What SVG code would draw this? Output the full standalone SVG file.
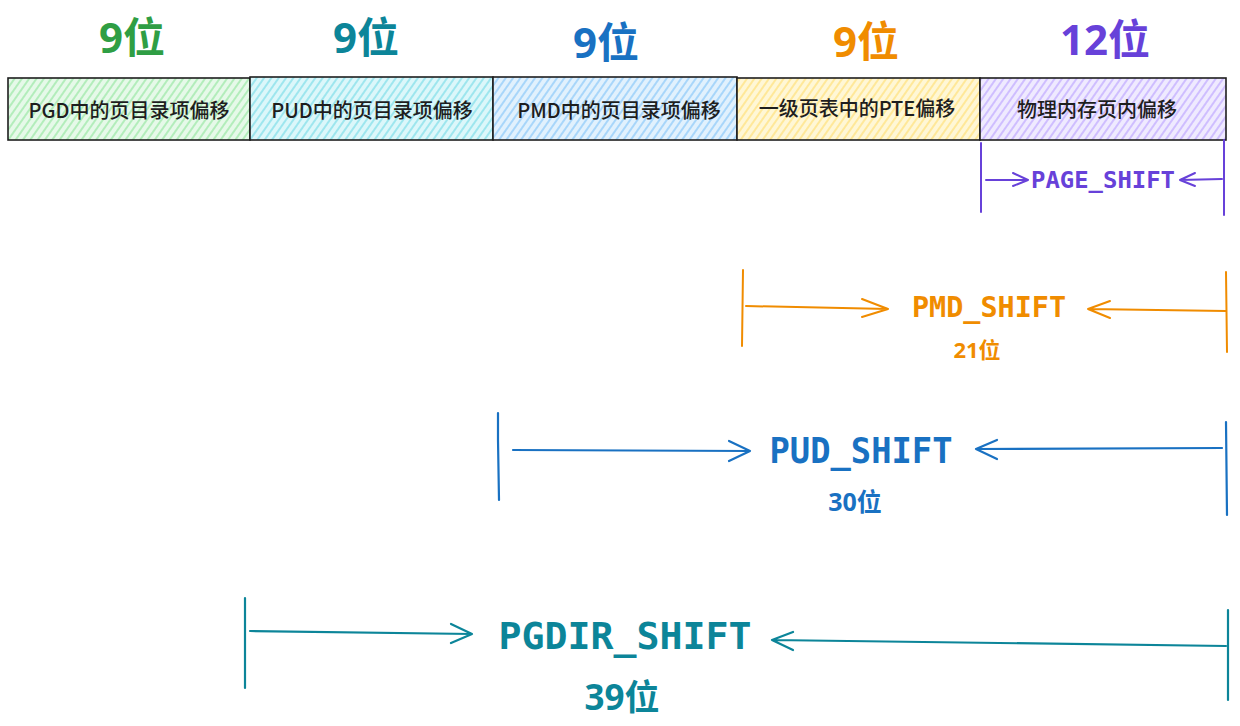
<svg xmlns="http://www.w3.org/2000/svg" width="1240" height="726" viewBox="0 0 1240 726">
<defs>
<pattern id="hG" width="6" height="6" patternUnits="userSpaceOnUse" patternTransform="rotate(-55)"><rect width="6" height="6" fill="#e6f9e9"/><line x1="0" y1="3" x2="6" y2="3" stroke="#a6eab0" stroke-width="1.6"/></pattern>
<pattern id="hC" width="6" height="6" patternUnits="userSpaceOnUse" patternTransform="rotate(-55)"><rect width="6" height="6" fill="#dcf7fa"/><line x1="0" y1="3" x2="6" y2="3" stroke="#8ee2ec" stroke-width="1.6"/></pattern>
<pattern id="hB" width="6" height="6" patternUnits="userSpaceOnUse" patternTransform="rotate(-55)"><rect width="6" height="6" fill="#e1f1fd"/><line x1="0" y1="3" x2="6" y2="3" stroke="#99d0fa" stroke-width="1.6"/></pattern>
<pattern id="hY" width="6" height="6" patternUnits="userSpaceOnUse" patternTransform="rotate(-55)"><rect width="6" height="6" fill="#fff7d6"/><line x1="0" y1="3" x2="6" y2="3" stroke="#ffe58a" stroke-width="1.6"/></pattern>
<pattern id="hP" width="6" height="6" patternUnits="userSpaceOnUse" patternTransform="rotate(-55)"><rect width="6" height="6" fill="#efeaff"/><line x1="0" y1="3" x2="6" y2="3" stroke="#c7b3ff" stroke-width="1.6"/></pattern>
</defs>
<style>
.box{stroke:#1e1e1e;stroke-width:1.6}
.bt{font-family:"Noto Sans CJK SC","Noto Sans",sans-serif;font-size:20px;font-weight:500;fill:#1e1e1e;text-anchor:middle;dominant-baseline:central}
.top{font-family:"Noto Sans","Noto Sans CJK SC",sans-serif;font-size:42px;font-weight:bold;text-anchor:middle}
.sh{font-family:"DejaVu Sans Mono","Noto Sans CJK SC",monospace;font-weight:bold;text-anchor:middle;dominant-baseline:central}
.num{font-family:"Noto Sans","Noto Sans CJK SC",sans-serif;font-weight:bold;text-anchor:middle}
.ln{fill:none;stroke-linecap:round;stroke-linejoin:round}
</style>
<g id="labels">
<text class="top" x="132" y="53" fill="#2f9e44">9位</text>
<text class="top" x="366" y="53" fill="#0c8599">9位</text>
<text class="top" x="606" y="58" fill="#1971c2">9位</text>
<text class="top" x="866" y="57" fill="#f08c00">9位</text>
<text class="top" x="1105" y="55" fill="#6741d9">12位</text>
</g>
<g id="pgd"><rect class="box" x="8" y="78" width="242" height="62" fill="url(#hG)"/><text class="bt" x="129" y="109">PGD中的页目录项偏移</text></g>
<g id="pud"><rect class="box" x="250" y="77" width="243" height="63" fill="url(#hC)"/><text class="bt" x="372" y="109">PUD中的页目录项偏移</text></g>
<g id="pmd"><rect class="box" x="493" y="77" width="244" height="63" fill="url(#hB)"/><text class="bt" x="619" y="109">PMD中的页目录项偏移</text></g>
<g id="pte"><rect class="box" x="737" y="78" width="243" height="62" fill="url(#hY)"/><text class="bt" x="857" y="107">一级页表中的PTE偏移</text></g>
<g id="off"><rect class="box" x="980" y="78" width="246" height="62" fill="url(#hP)"/><text class="bt" x="1097" y="108">物理内存页内偏移</text></g>
<g id="connectors">
<g stroke="#6741d9" stroke-width="2" class="ln">
<path d="M981 143 L981 212"/><path d="M1224 140 L1224 215"/>
<path d="M986 180 L1028 180 M1013 173 L1028 180 L1013 186"/>
<path d="M1222 179 L1180 180 M1195 173 L1180 180 L1195 186"/>
</g>
<g stroke="#f08c00" stroke-width="2" class="ln">
<path d="M743 270 L742 346"/><path d="M1226 272 L1227 352"/>
<path d="M746 306 L888 309 M862 299 L888 309 L862 317"/>
<path d="M1226 311 L1088 309 M1110 301 L1088 309 L1110 318"/>
</g>
<g stroke="#1971c2" stroke-width="2.2" class="ln">
<path d="M498 413 L498 440 L499 500"/><path d="M1226 422 L1227 515"/>
<path d="M513 450 L750 451 M729 441 L750 451 L729 461"/>
<path d="M1222 448 L976 449 M997 440 L976 449 L997 459"/>
</g>
<g stroke="#0c8599" stroke-width="2.2" class="ln">
<path d="M245 598 L245 688"/><path d="M1228 610 L1228 700"/>
<path d="M250 631 L472 634 M451 624 L472 634 L451 643"/>
<path d="M1226 646 L772 640 M793 632 L772 640 L793 650"/>
</g>
</g>
<g id="shift-labels">
<text class="sh" x="1103" y="180" font-size="23" fill="#6741d9" textLength="144" lengthAdjust="spacingAndGlyphs">PAGE_SHIFT</text>
<text class="sh" x="989" y="307" font-size="29" fill="#f08c00" textLength="154" lengthAdjust="spacingAndGlyphs">PMD_SHIFT</text>
<text class="num" x="977" y="358" font-size="22" fill="#f08c00">21位</text>
<text class="sh" x="861" y="451" font-size="35" fill="#1971c2" textLength="183" lengthAdjust="spacingAndGlyphs">PUD_SHIFT</text>
<text class="num" x="855" y="511" font-size="25" fill="#1971c2">30位</text>
<text class="sh" x="625" y="636" font-size="38" fill="#0c8599" textLength="253" lengthAdjust="spacingAndGlyphs">PGDIR_SHIFT</text>
<text class="num" x="622" y="710" font-size="35" fill="#0c8599">39位</text>
</g>
</svg>
